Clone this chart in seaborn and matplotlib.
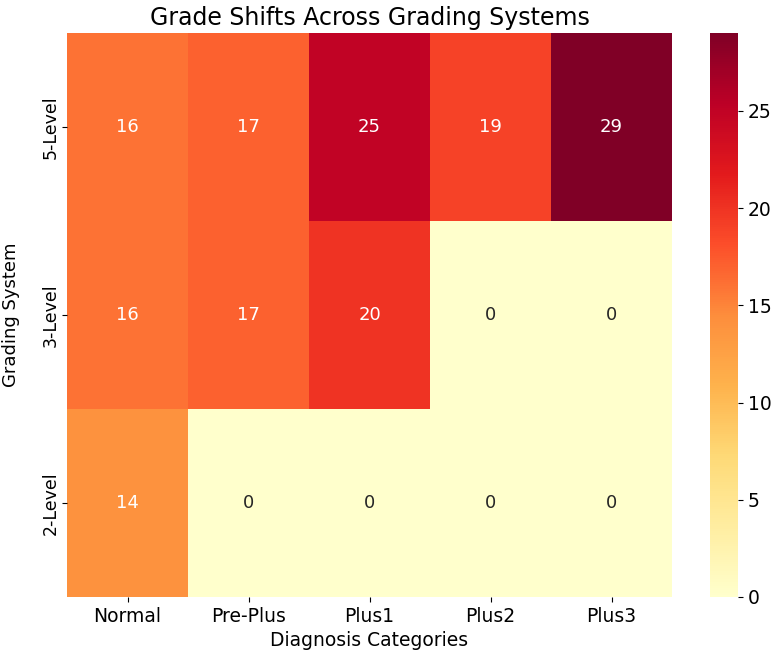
import numpy as np
import pandas as pd
import matplotlib
matplotlib.use('Agg')
import matplotlib.pyplot as plt
import seaborn as sns

# Diagnosis categories and grading systems
categories = ["Normal", "Pre-Plus", "Plus1", "Plus2", "Plus3"]
systems = ["5-Level", "3-Level", "2-Level"]

five_level = [16, 17, 25, 19, 29]
three_level = [16, 17, 20, 0, 0]
two_level = [14, 0, 0, 0, 0]

df = pd.DataFrame([five_level, three_level, two_level], index=systems, columns=categories)

fig = plt.figure(figsize=(7.79, 6.63), dpi=100)
W, H = 779, 663
ax = fig.add_axes([67 / W, (H - 597) / H, 605 / W, 564 / H])
cax = fig.add_axes([710 / W, (H - 597) / H, 28 / W, 564 / H])

sns.heatmap(df, annot=True, fmt="d", cmap="YlOrRd", ax=ax, cbar_ax=cax,
            annot_kws={"fontsize": 13})

# non-zero cells get white labels, zeros dark
for txt in ax.texts:
    txt.set_color("white" if txt.get_text() != "0" else "#262626")

ax.set_title("Grade Shifts Across Grading Systems", fontsize=17, pad=6)
ax.set_xlabel("Diagnosis Categories", fontsize=13.5)
ax.set_ylabel("Grading System", fontsize=13)
ax.yaxis.set_label_coords(-0.078, 0.5)
ax.tick_params(axis='x', labelsize=13.5)
ax.tick_params(axis='y', labelsize=12.5, pad=2)
cax.tick_params(labelsize=13.5)

plt.savefig("out.png")
